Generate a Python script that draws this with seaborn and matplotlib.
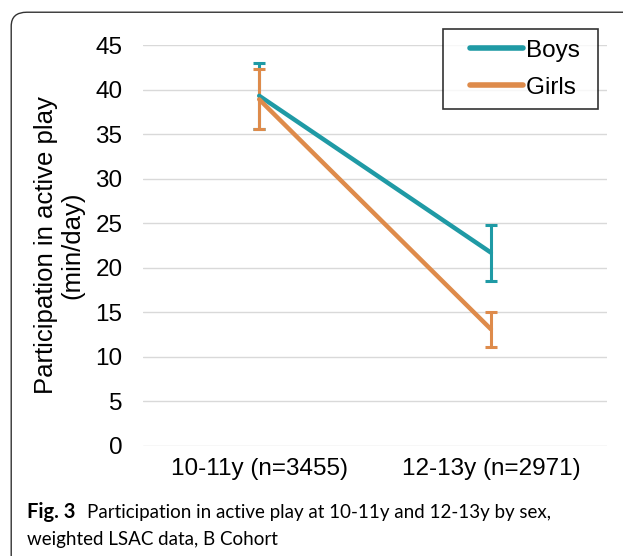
import numpy as np
import pandas as pd
import seaborn as sns
import matplotlib.pyplot as plt
from matplotlib.patches import FancyBboxPatch

# data
ages = ["10-11y (n=3455)", "12-13y (n=2971)"]
boys = [39.3, 21.7]
boys_lo = [35.6, 18.5]
boys_hi = [43.0, 24.8]
girls = [38.9, 13.1]
girls_lo = [35.6, 11.1]
girls_hi = [42.3, 15.0]

teal = "#1F9AA5"
orange = "#DE8B4B"

df = pd.DataFrame({
    "age": ages * 2,
    "mins": boys + girls,
    "sex": ["Boys"] * 2 + ["Girls"] * 2,
})

sns.set_style("white")
plt.rcParams["font.family"] = ["Liberation Sans", "DejaVu Sans"]
plt.rcParams["text.color"] = "black"
plt.rcParams["axes.labelcolor"] = "black"
plt.rcParams["xtick.color"] = "black"
plt.rcParams["ytick.color"] = "black"

fig = plt.figure(figsize=(6.23, 5.56), dpi=100)
ax = fig.add_axes([0.23, 0.198, 0.744, 0.721])

# error bars first so the lines sit on them
x = range(len(ages))
for m, lo, hi, c in [(boys, boys_lo, boys_hi, teal), (girls, girls_lo, girls_hi, orange)]:
    err = [[a - b for a, b in zip(m, lo)], [b - a for a, b in zip(m, hi)]]
    ax.errorbar(list(x), m, yerr=err, fmt="none", ecolor=c, elinewidth=2.2,
                capsize=4.5, capthick=2.2, zorder=3)

sns.lineplot(data=df, x="age", y="mins", hue="sex", palette=[teal, orange],
             linewidth=3.2, ax=ax, zorder=4, sort=False)

ax.set_xlim(-0.5, 1.5)
ax.set_ylim(0, 45)
ax.set_yticks(range(0, 50, 5))
ax.yaxis.grid(True, color="#d9d9d9", linewidth=1)
for s in ax.spines.values():
    s.set_visible(False)
ax.tick_params(axis="both", labelsize=17.5, length=0, pad=9)
ax.tick_params(axis="y", pad=15)
ax.set_xlabel("")
ax.set_ylabel("Participation in active play\n(min/day)", fontsize=18.5,
              labelpad=8, linespacing=1.1)

handles, labels = ax.get_legend_handles_labels()
leg = ax.legend(handles, [l + " " for l in labels], loc="upper right",
                bbox_to_anchor=(0.981, 1.04), fontsize=17.5,
                frameon=True, fancybox=False, edgecolor="black",
                handlelength=2.85, handletextpad=0.15, borderpad=0.45,
                labelspacing=0.6, borderaxespad=0)
leg.get_frame().set_linewidth(1.2)
for h in leg.get_lines():
    xd = np.asarray(h.get_xdata(), dtype=float)
    x0 = xd.min() + (xd.max() - xd.min()) * 0.24
    h.set_xdata(np.linspace(x0, xd.max(), len(xd)))
    h.set_linewidth(4)
    h.set_solid_capstyle("round")

# rounded frame around the figure panel
frame = FancyBboxPatch((0.018, -0.05), 1.1, 1.028, transform=fig.transFigure,
                       boxstyle="round,pad=0,rounding_size=0.025",
                       facecolor="none", edgecolor="#333333", linewidth=1)
fig.patches.append(frame)

cap_font = ["Lato", "DejaVu Sans"]
fig.text(0.043, 0.068, "Fig. 3", fontsize=14.5, fontweight="bold",
         family=cap_font, va="baseline")
fig.text(0.14, 0.068, "Participation in active play at 10-11y and 12-13y by sex,",
         fontsize=13.5, family=cap_font, va="baseline")
fig.text(0.043, 0.02, "weighted LSAC data, B Cohort",
         fontsize=13.5, family=cap_font, va="baseline")

fig.savefig("out.png", dpi=100)
